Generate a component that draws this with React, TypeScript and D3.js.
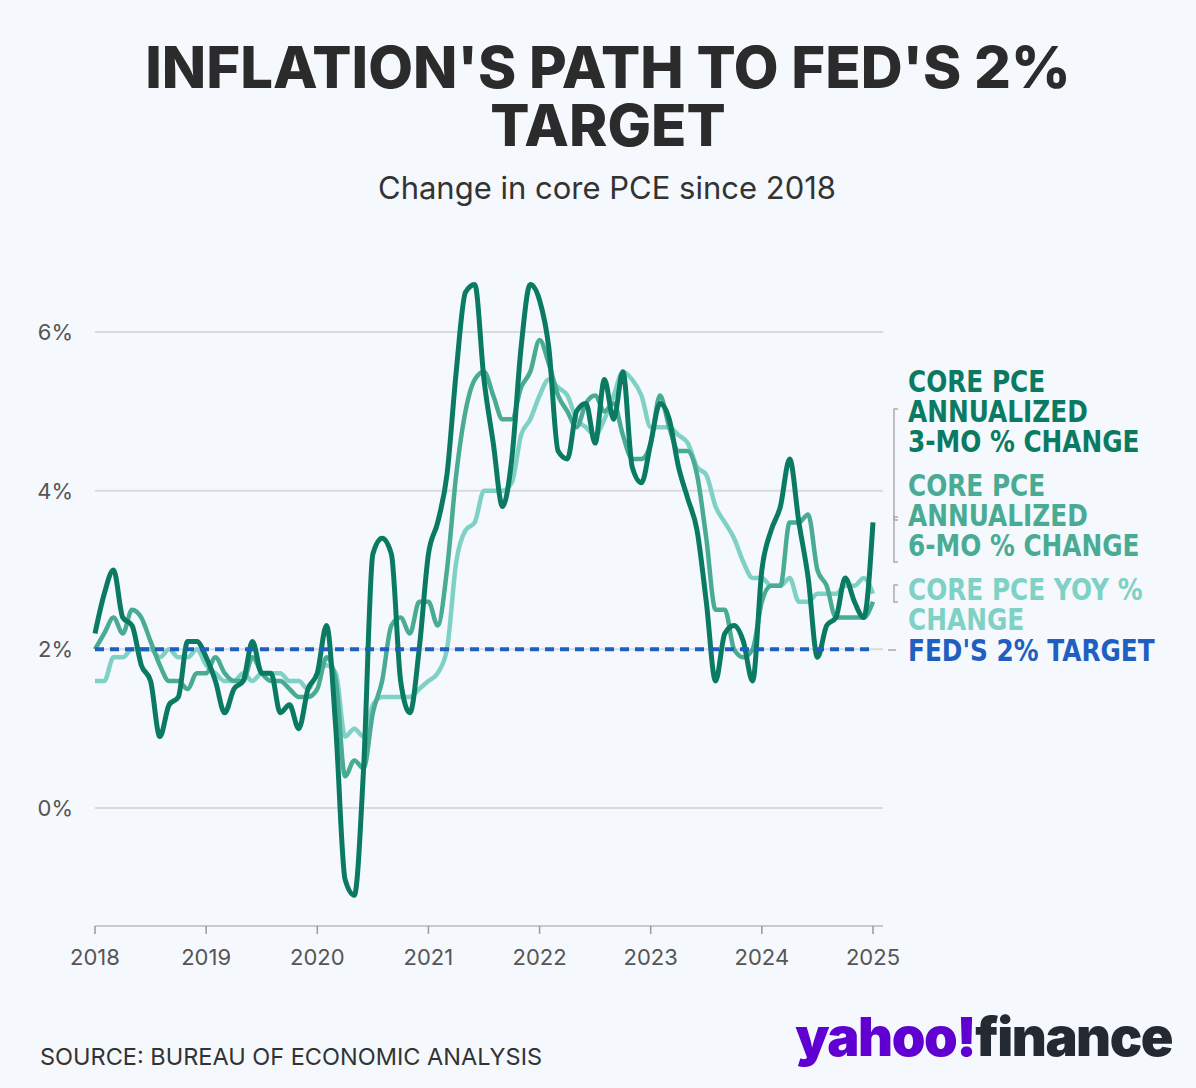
import React from "react";
import * as d3 from "d3";

const startYear = 2018;
const yearTicks = [2018, 2019, 2020, 2021, 2022, 2023, 2024, 2025];
const yTicks = [0, 2, 4, 6];

// monthly, Jan 2018 .. Jan 2025
const threeMo = [
  2.2, 2.7, 3.0, 2.4, 2.3, 1.8, 1.6, 0.9, 1.3, 1.4, 2.1, 2.1,
  1.9, 1.6, 1.2, 1.5, 1.6, 2.1, 1.7, 1.7, 1.2, 1.3, 1.0, 1.5,
  1.7, 2.3, 1.0, -0.9, -1.1, 0.5, 3.2, 3.4, 3.2, 1.6, 1.2, 2.0,
  3.2, 3.6, 4.2, 5.5, 6.5, 6.6, 5.4, 4.6, 3.8, 4.4, 5.8, 6.6,
  6.4, 5.8, 4.5, 4.4, 5.0, 5.1, 4.6, 5.4, 4.9, 5.5, 4.3, 4.1,
  4.6, 5.1, 4.9, 4.3, 3.9, 3.5, 2.6, 1.6, 2.2, 2.3, 2.1, 1.6,
  3.0, 3.5, 3.8, 4.4, 3.6, 2.9, 1.9, 2.3, 2.4, 2.9, 2.6, 2.4,
  3.6,
];
const sixMo = [
  2.0, 2.2, 2.4, 2.2, 2.5, 2.4, 2.1, 1.8, 1.6, 1.6, 1.5, 1.7,
  1.7, 1.9, 1.7, 1.6, 1.6, 1.9, 1.7, 1.6, 1.6, 1.5, 1.4, 1.4,
  1.5, 1.9, 1.6, 0.4, 0.6, 0.5, 1.2, 1.6, 2.3, 2.4, 2.2, 2.6,
  2.6, 2.3, 3.0, 4.2, 5.0, 5.4, 5.5, 5.2, 4.9, 4.9, 5.3, 5.5,
  5.9, 5.6, 5.2, 5.0, 4.8, 5.1, 5.2, 5.0, 5.1, 4.7, 4.4, 4.4,
  4.6, 5.2, 4.8, 4.5, 4.5, 4.2, 3.4, 2.5, 2.5, 2.0, 1.9, 2.0,
  2.6, 2.8, 2.8, 3.6, 3.6, 3.7, 3.0, 2.8, 2.4, 2.4, 2.4, 2.4,
  2.6,
];
const yoy = [
  1.6, 1.6, 1.9, 1.9, 2.0, 2.0, 2.0, 1.9, 2.0, 1.9, 1.9, 2.0,
  1.8, 1.7, 1.6, 1.6, 1.7, 1.6, 1.7, 1.7, 1.7, 1.6, 1.6, 1.5,
  1.7, 1.8, 1.7, 0.9, 1.0, 0.9, 1.3, 1.4, 1.4, 1.4, 1.4, 1.5,
  1.6, 1.7, 2.0, 3.1, 3.5, 3.6, 4.0, 4.0, 4.0, 4.1, 4.7, 4.9,
  5.2, 5.4, 5.3, 5.2, 4.9, 4.8, 4.7, 4.9, 5.2, 5.5, 5.4, 5.2,
  4.8, 4.8, 4.8, 4.7, 4.6, 4.3, 4.2, 3.8, 3.6, 3.4, 3.1, 2.9,
  2.9, 2.8, 2.8, 2.9, 2.6, 2.6, 2.7, 2.7, 2.7, 2.8, 2.8, 2.9,
  2.7,
];
const target = 2;

const C_DARK = "#0b7a62";
const C_MID = "#4aab94";
const C_LIGHT = "#7fd1c5";
const C_BLUE = "#1f5fc0";

const series = [
  { values: yoy, color: C_LIGHT, w: 4.5 },
  { values: sixMo, color: C_MID, w: 4.5 },
  { values: threeMo, color: C_DARK, w: 5 },
];

const legend = [
  { lines: ["CORE PCE", "ANNUALIZED", "3-MO % CHANGE"], color: C_DARK, y: 392 },
  { lines: ["CORE PCE", "ANNUALIZED", "6-MO % CHANGE"], color: C_MID, y: 496 },
  { lines: ["CORE PCE YOY %", "CHANGE"], color: C_LIGHT, y: 600 },
  { lines: ["FED'S 2% TARGET"], color: C_BLUE, y: 661 },
];

export default function App() {
  const x = d3.scaleLinear().domain([2018, 2025]).range([95, 873]);
  const y = d3.scaleLinear().domain([0, 6]).range([808, 332]);
  const xm = (i: number) => x(startYear + i / 12);
  const line = d3
    .line<number>()
    .x((_, i) => xm(i))
    .y((d) => y(d))
    .curve(d3.curveMonotoneX);
  const font = "Inter, 'Noto Sans', sans-serif";
  const narrow = "'DejaVu Sans', sans-serif";
  const xEnd = xm(threeMo.length - 1);

  return (
    <svg
      width={1196}
      height={1088}
      style={{ position: "absolute", left: 0, top: 0, background: "#f5f8fd" }}
    >
      <rect width={1196} height={1088} fill="#f5f8fd" />
      <text x={608} y={88} textAnchor="middle" fontFamily={font} fontWeight={800} fontSize={58} fill="#2b2b2b">
        INFLATION'S PATH TO FED'S 2%
      </text>
      <text x={608} y={146} textAnchor="middle" fontFamily={font} fontWeight={800} fontSize={58} fill="#2b2b2b">
        TARGET
      </text>
      <text x={607} y={199} textAnchor="middle" fontFamily={font} fontSize={31} fill="#333">
        Change in core PCE since 2018
      </text>

      {yTicks.map((t) => (
        <g key={t}>
          <line x1={95} x2={883} y1={y(t)} y2={y(t)} stroke="#d9dadd" strokeWidth={2} />
          <text x={73} y={y(t) + 8} textAnchor="end" fontFamily={font} fontSize={22} fill="#555">
            {t}%
          </text>
        </g>
      ))}
      <line x1={95} x2={883} y1={926} y2={926} stroke="#bbb" strokeWidth={1.5} />
      {yearTicks.map((yr) => (
        <g key={yr}>
          <line x1={x(yr)} x2={x(yr)} y1={926} y2={934} stroke="#999" strokeWidth={1.5} />
          <text x={x(yr)} y={965} textAnchor="middle" fontFamily={font} fontSize={22} fill="#555">
            {yr}
          </text>
        </g>
      ))}

      {series.map((s, i) => (
        <path key={i} d={line(s.values) || ""} fill="none" stroke={s.color} strokeWidth={s.w} strokeLinejoin="round" />
      ))}
      <line x1={95} x2={xEnd} y1={y(target)} y2={y(target)} stroke={C_BLUE} strokeWidth={4} strokeDasharray="9 6" />

      {/* legend connectors */}
      <path d={`M898 409 H894 V520 H898`} fill="none" stroke="#aaa" strokeWidth={1.5} />
      <path d={`M898 517 H894 V562 H898`} fill="none" stroke="#aaa" strokeWidth={1.5} />
      <path d={`M898 585 H894 V602 H898`} fill="none" stroke="#aaa" strokeWidth={1.5} />
      <line x1={888} x2={896} y1={650} y2={650} stroke="#aaa" strokeWidth={1.5} />
      {legend.map((l, i) => (
        <g key={i} transform={`translate(908,${l.y}) scale(0.8,1)`}>
          <text fontFamily={narrow} fontWeight={700} fontSize={31} fill={l.color}>
            {l.lines.map((t, j) => (
              <tspan key={j} x={0} y={j * 30}>
                {t}
              </tspan>
            ))}
          </text>
        </g>
      ))}

      <text x={40} y={1065} fontFamily={font} fontSize={23.5} fill="#333">
        SOURCE: BUREAU OF ECONOMIC ANALYSIS
      </text>
      <text x={1172} y={1056} textAnchor="end" fontFamily={font} fontWeight={900} fontSize={54} letterSpacing={-1.5}>
        <tspan fill="#6001d2">yahoo!</tspan>
        <tspan fill="#232a31">finance</tspan>
      </text>
    </svg>
  );
}
